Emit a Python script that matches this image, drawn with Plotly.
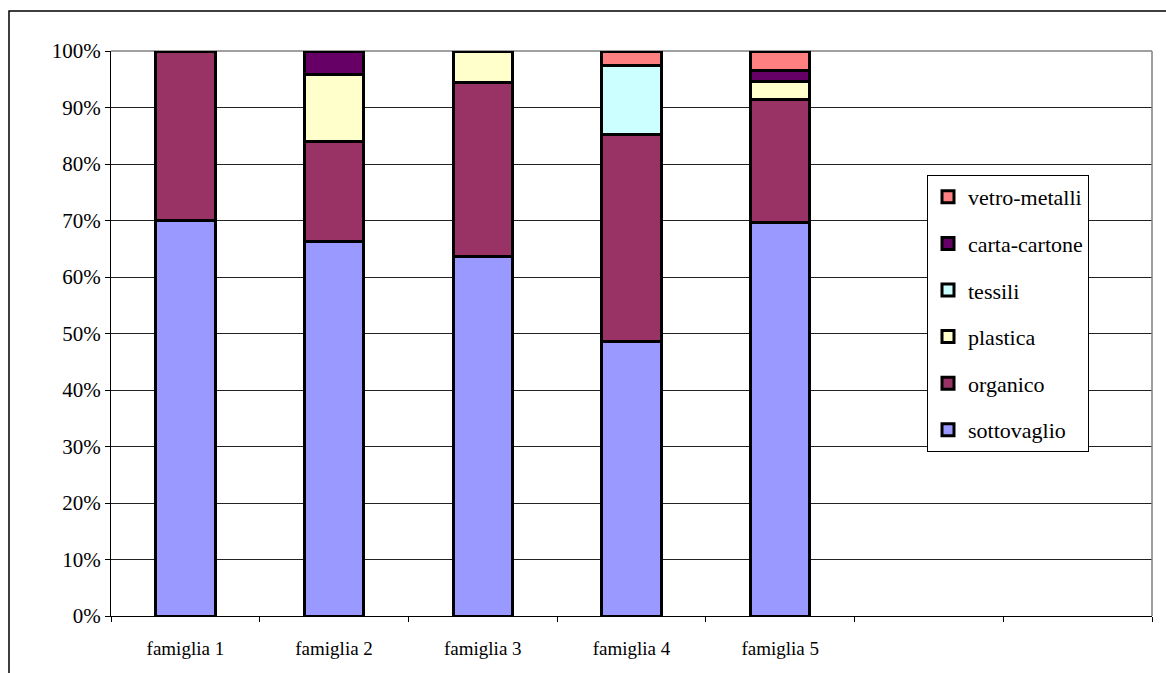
import plotly.graph_objects as go

categories = ["famiglia 1", "famiglia 2", "famiglia 3", "famiglia 4", "famiglia 5", " ", "  "]
series_names = ["sottovaglio", "organico", "plastica", "tessili", "carta-cartone", "vetro-metalli"]
sottovaglio = [70.0, 66.2, 63.6, 48.5, 69.7, None, None]
organico = [30.0, 17.7, 30.8, 36.8, 21.7, None, None]
plastica = [None, 11.9, 5.6, None, 3.2, None, None]
tessili = [None, None, None, 12.2, None, None, None]
carta_cartone = [None, 4.2, None, None, 2.0, None, None]
vetro_metalli = [None, None, None, 2.5, 3.4, None, None]
colors = ["#9999FF", "#993366", "#FFFFCC", "#CCFFFF", "#660066", "#FF8080"]
y_ticks = [0, 10, 20, 30, 40, 50, 60, 70, 80, 90, 100]

series_values = [sottovaglio, organico, plastica, tessili, carta_cartone, vetro_metalli]
FONT = "Times New Roman, Liberation Serif, serif"

fig = go.Figure()
n = len(series_names)
for i, (name, vals, col) in enumerate(zip(series_names, series_values, colors)):
    fig.add_trace(go.Bar(
        x=categories, y=vals, name=name, legendgroup=name, legendrank=n - i,
        marker=dict(color=col, line=dict(color="black", width=3)),
        hoverinfo="skip",
    ))

W, H = 1166, 673
L, R, T, B = 111, 14, 51, 57
pw, ph = W - L - R, H - T - B

def px_x(x):
    return (x - L) / pw

def px_y(y):
    return (H - B - y) / ph

fig.update_layout(
    width=W, height=H,
    margin=dict(l=L, r=R, t=T, b=B),
    barmode="stack", bargap=0.6,
    paper_bgcolor="white", plot_bgcolor="white",
    font=dict(family=FONT, size=19, color="black"),
    legend=dict(
        x=px_x(927), y=px_y(175), xanchor="left", yanchor="top",
        bgcolor="white", bordercolor="black", borderwidth=1,
        font=dict(family=FONT, size=22, color="black"),
        traceorder="grouped", tracegroupgap=15,
        itemclick=False, itemdoubleclick=False,
    ),
    xaxis=dict(
        type="category", categoryorder="array", categoryarray=categories,
        range=[-0.5, 6.5], tickson="boundaries", ticks="outside", ticklen=5,
        tickcolor="black", showline=True, linecolor="black", linewidth=1,
        showgrid=False, tickfont=dict(family=FONT, size=19), ticklabelstandoff=15,
        fixedrange=True,
    ),
    yaxis=dict(
        range=[0, 100], tickvals=y_ticks, ticktext=[f"{v}%" for v in y_ticks],
        ticks="outside", ticklen=5, tickcolor="black",
        showline=True, linecolor="black", linewidth=1,
        showgrid=True, gridcolor="#222222", gridwidth=1,
        tickfont=dict(family=FONT, size=21), zeroline=False, fixedrange=True,
    ),
    shapes=[
        dict(type="line", xref="paper", yref="paper", x0=1, x1=1, y0=0, y1=1,
             line=dict(color="#808080", width=1.5)),
        dict(type="line", xref="paper", yref="paper", x0=0, x1=1, y0=1, y1=1,
             line=dict(color="#808080", width=1.5), layer="below"),
        dict(type="rect", xref="paper", yref="paper",
             x0=px_x(9), x1=px_x(1200), y0=px_y(700), y1=px_y(11),
             line=dict(color="black", width=1.5), fillcolor="rgba(0,0,0,0)"),
    ],
)

fig.write_html("out.html", config={"displayModeBar": False})
